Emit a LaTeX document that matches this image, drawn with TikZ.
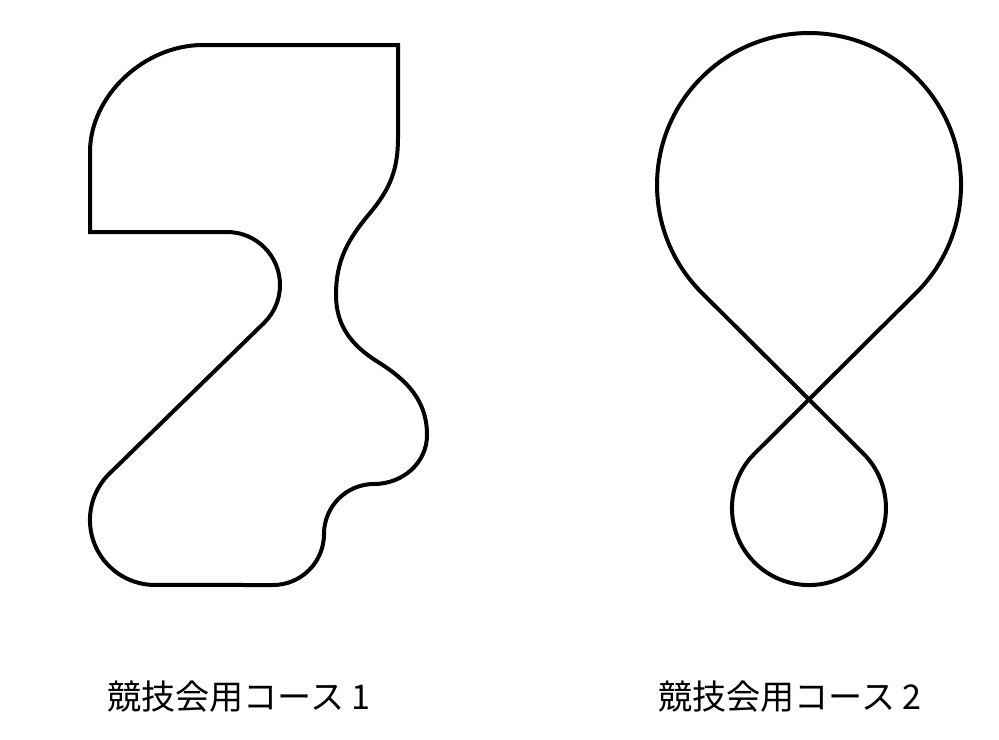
\documentclass[tikz,border=0pt]{standalone}
\usepackage{fontspec}
\newfontfamily\jpfont{Noto Sans CJK JP}
\usetikzlibrary{calc}

\tikzset{
  track/.style={line width=0.4mm},
  coursename/.style={font=\jpfont\fontsize{9.7pt}{12pt}\selectfont, inner sep=0pt}
}

\begin{document}
\begin{tikzpicture}
  \useasboundingbox (0,0) rectangle (9.99,-7.39);

  %course 1
  \coordinate (1A) at (0.90, -2.32);
  \coordinate (1B) at (2.27, -2.32);
  \coordinate (1C) at (1.09, -4.74);
  \coordinate (1D) at (2.73, -5.85);
  \coordinate (1E) at (4.27, -4.35);
  \coordinate (1F) at (3.78, -3.62);
  \coordinate (1G) at (3.36, -2.95);
  \coordinate (1H) at (3.70, -2.13);
  \coordinate (1I) at (3.98, -1.38);
  \coordinate (1J) at (3.98, -0.45);
  \coordinate (1K) at (2.03, -0.45);
  \coordinate (1L) at (0.90, -1.52);

  \draw[track] (1A) -- (1B) arc[start angle=90, end angle=-45, radius=0.53]
    -- (1C) arc[start angle=135, end angle=270, radius=0.65]
    -- (1D) arc[start angle=-90, end angle=0, radius=0.51]
    arc[start angle=180, end angle=90, radius=0.50]
    to[out=0, in=-90] (1E)
    to[out=90, in=-32] (1F)
    to[out=148, in=-90] (1G)
    to[out=90, in=230] (1H)
    to[out=50, in=-90] (1I)
    -- (1J) -- (1K)
    .. controls (1.44, -0.45) and (0.90, -0.96) .. (1L) -- cycle;
  \node[coursename] (name1) at (2.39, -6.97) {競技会用コース 1};

  %course 2
  \coordinate (2A) at (7.015, -2.925);
  \coordinate (2B) at (8.634, -4.536);
  \coordinate (2D) at (9.165, -2.925);

  \draw[track] (2A) -- (2B) arc[start angle=45, end angle=-225, radius=0.77]
    -- (2D) arc[start angle=-45, end angle=225, radius=1.52] -- cycle;
  \node[coursename] (name2) at (7.90, -6.97) {競技会用コース 2};
\end{tikzpicture}
\end{document}
